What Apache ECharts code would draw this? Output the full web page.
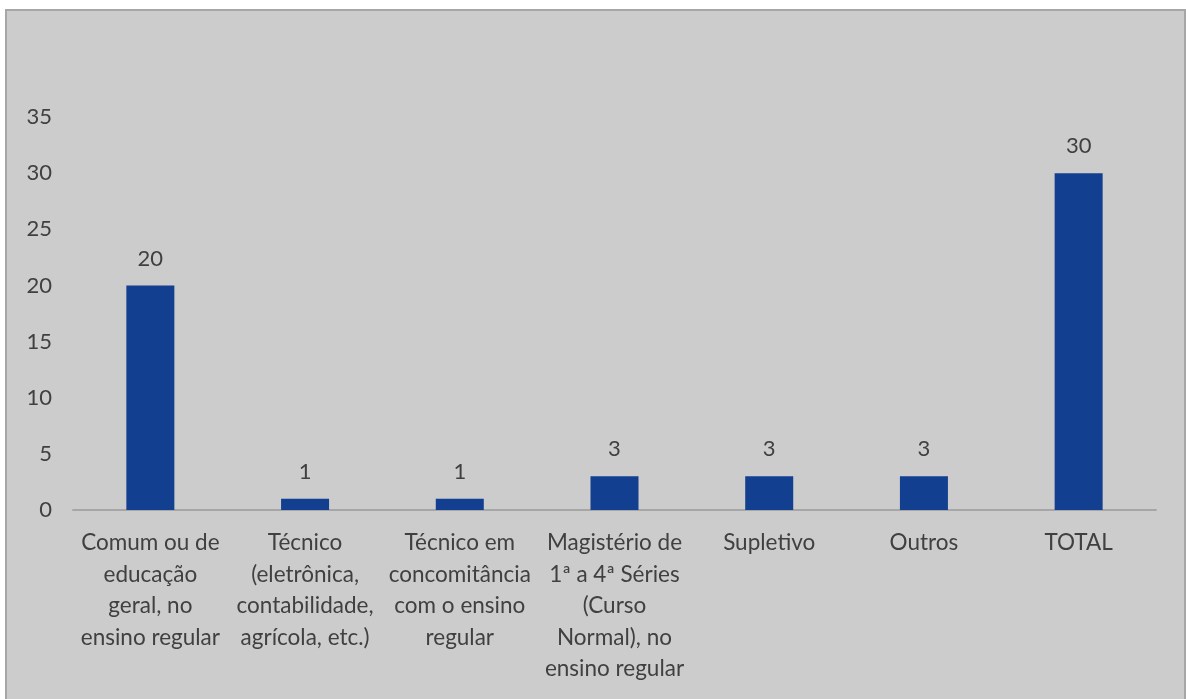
<!DOCTYPE html>
<html>
<head>
<meta charset="utf-8">
<script src="https://cdn.jsdelivr.net/npm/echarts@6/dist/echarts.min.js"></script>
<style>
html,body{margin:0;padding:0;background:#fff;}
#chart{width:1186px;height:699px;}
</style>
</head>
<body>
<div id="chart"></div>
<script>
const categories = [
  'Comum ou de\neducação\ngeral, no\nensino regular',
  'Técnico\n(eletrônica,\ncontabilidade,\nagrícola, etc.)',
  'Técnico em\nconcomitância\ncom o ensino\nregular',
  'Magistério de\n1ª a 4ª Séries\n(Curso\nNormal), no\nensino regular',
  'Supletivo',
  'Outros',
  'TOTAL'
];
const values = [20, 1, 1, 3, 3, 3, 30];
const yTicks = [0, 5, 10, 15, 20, 25, 30, 35];

const FONT = 'Lato, "Open Sans", sans-serif';
const chart = echarts.init(document.getElementById('chart'));
chart.setOption({
  backgroundColor: '#ffffff',
  animation: false,
  graphic: [{
    type: 'rect',
    z: -10,
    silent: true,
    shape: { x: 6, y: 10, width: 1179, height: 700 },
    style: { fill: '#cccccc', stroke: '#a6a6a6', lineWidth: 2 }
  }],
  grid: { left: 73, right: 30, top: 117, bottom: 189, containLabel: false },
  xAxis: {
    type: 'category',
    data: categories,
    axisLine: { show: true, lineStyle: { color: '#a6a6a6', width: 2 } },
    axisTick: { show: false },
    axisLabel: {
      interval: 0,
      color: '#404040',
      fontFamily: FONT,
      fontSize: 22.5,
      lineHeight: 31.5,
      margin: 17
    }
  },
  yAxis: {
    type: 'value',
    min: yTicks[0],
    max: yTicks[yTicks.length - 1],
    interval: 5,
    axisLine: { show: false },
    axisTick: { show: false },
    splitLine: { show: false },
    axisLabel: {
      color: '#404040',
      fontFamily: FONT,
      fontSize: 22,
      margin: 21
    }
  },
  series: [{
    type: 'bar',
    data: values,
    barWidth: 48,
    itemStyle: { color: '#123f8f' },
    label: {
      show: true,
      position: 'top',
      distance: 16,
      color: '#404040',
      fontFamily: FONT,
      fontSize: 22
    }
  }]
});
</script>
</body>
</html>
